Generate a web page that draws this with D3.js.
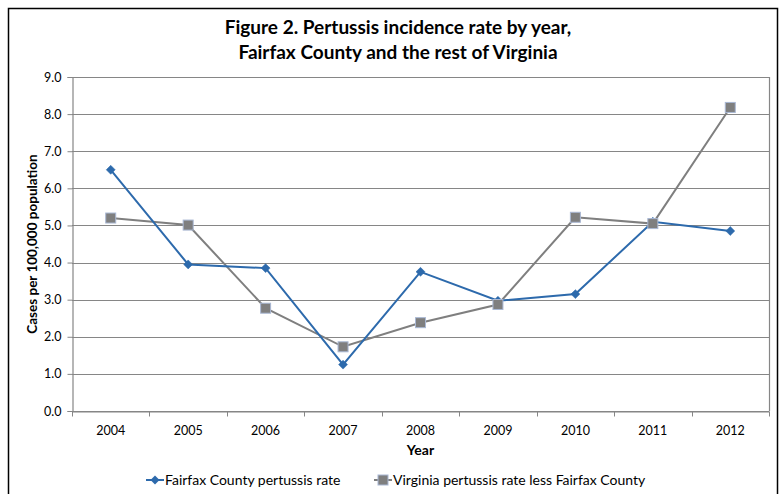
<!DOCTYPE html>
<html><head><meta charset="utf-8">
<script src="https://cdn.jsdelivr.net/npm/d3@7"></script>
<style>
html,body{margin:0;padding:0;background:#fff;}
svg{display:block;font-family:Lato,"Open Sans",sans-serif;}
</style></head>
<body>
<script>
const years = ["2004","2005","2006","2007","2008","2009","2010","2011","2012"];
const fairfax = [6.5, 3.95, 3.85, 1.25, 3.75, 2.97, 3.15, 5.1, 4.85];
const virginia = [5.2, 5.01, 2.77, 1.73, 2.38, 2.87, 5.22, 5.05, 8.18];
const yTicks = [0,1,2,3,4,5,6,7,8,9];
const titleLines = ["Figure 2. Pertussis incidence rate by year,", "Fairfax County and the rest of Virginia"];
const seriesNames = ["Fairfax County pertussis rate", "Virginia pertussis rate less Fairfax County"];

(function(){
const W = 782, H = 494;
const svg = d3.select("body").append("svg").attr("width", W).attr("height", H);

svg.append("rect").attr("x", 8.5).attr("y", 8.5).attr("width", 769).attr("height", 500)
  .attr("fill", "#fff").attr("stroke", "#000").attr("stroke-width", 1.5);

const pLeft = 72, pRight = 769, pTop = 77, pBottom = 411;
const x = d3.scaleBand().domain(years).range([pLeft, pRight]);
const y = d3.scaleLinear().domain([0, 9]).range([pBottom, pTop]);

svg.append("g").selectAll("text").data(titleLines).join("text")
  .attr("x", 398).attr("y", (d,i) => 34 + i*25)
  .attr("text-anchor", "middle").attr("font-weight", "bold").attr("font-size", 19)
  .attr("fill", "#000").text(d => d);

svg.append("g").selectAll("line").data(yTicks).join("line")
  .attr("x1", pLeft).attr("x2", pRight).attr("y1", d => Math.round(y(d)) + 0.5).attr("y2", d => Math.round(y(d)) + 0.5)
  .attr("stroke", "#868686").attr("stroke-width", 1.2);

svg.append("line").attr("x1", pRight + 0.5).attr("x2", pRight + 0.5).attr("y1", pTop).attr("y2", pBottom)
  .attr("stroke", "#868686").attr("stroke-width", 1.2);

const yAxis = d3.axisLeft(y).tickValues(yTicks).tickFormat(d3.format(".1f")).tickSize(5).tickPadding(6);
const gy = svg.append("g").attr("transform", `translate(${pLeft + 0.5},0)`).call(yAxis);
gy.select(".domain").attr("stroke", "#868686").attr("stroke-width", 1.2);
gy.selectAll(".tick line").attr("stroke", "#868686");
gy.selectAll(".tick text").attr("font-size", 12.5).attr("fill", "#000").attr("font-family", "Lato,sans-serif");

const xAxis = d3.axisBottom(x).tickSize(0).tickPadding(15);
const gx = svg.append("g").attr("transform", `translate(0,${pBottom + 0.5})`).call(xAxis);
gx.select(".domain").attr("stroke", "#868686").attr("stroke-width", 1.2);
gx.selectAll(".tick text").attr("font-size", 12.5).attr("fill", "#000").attr("font-family", "Lato,sans-serif");
const bounds = years.map(d => x(d)).concat([x(years[years.length-1]) + x.bandwidth()]);
gx.selectAll(".bt").data(bounds).join("line").attr("class", "bt")
  .attr("x1", d => Math.round(d) + 0.5).attr("x2", d => Math.round(d) + 0.5).attr("y1", 0).attr("y2", 5)
  .attr("stroke", "#868686");

svg.append("text").attr("x", x("2008") + x.bandwidth()/2).attr("y", 455)
  .attr("text-anchor", "middle").attr("font-weight", "bold").attr("font-size", 14).text("Year");
svg.append("text").attr("transform", `translate(37,${(pTop+pBottom)/2}) rotate(-90)`)
  .attr("text-anchor", "middle").attr("font-weight", "bold").attr("font-size", 13.5)
  .text("Cases per 100,000 population");

const cx = d => x(d) + x.bandwidth()/2;
const line = d3.line().x((d,i) => cx(years[i])).y(d => y(d));
const blue = "#2d6aac", gray = "#7f7f7f";

svg.append("path").datum(virginia).attr("d", line).attr("fill", "none").attr("stroke", gray).attr("stroke-width", 2);
svg.append("path").datum(fairfax).attr("d", line).attr("fill", "none").attr("stroke", blue).attr("stroke-width", 2);

const diamond = d3.symbol().type(d3.symbolSquare).size(40);
svg.append("g").selectAll("path").data(fairfax).join("path")
  .attr("transform", (d,i) => `translate(${cx(years[i])},${y(d)}) rotate(45)`)
  .attr("d", diamond).attr("fill", blue).attr("stroke", blue).attr("stroke-width", 0.5);

svg.append("g").selectAll("rect").data(virginia).join("rect")
  .attr("x", (d,i) => cx(years[i]) - 5).attr("y", d => y(d) - 5)
  .attr("width", 10).attr("height", 10)
  .attr("fill", gray).attr("stroke", "#a9b8d4").attr("stroke-width", 1);

const lg = svg.append("g");
const legendItems = [{name: seriesNames[0], color: blue, x: 146, type: "d"}, {name: seriesNames[1], color: gray, x: 374, type: "s"}];
legendItems.forEach(it => {
  const g = lg.append("g").attr("transform", `translate(${it.x},480)`);
  g.append("line").attr("x1", 0).attr("x2", 18).attr("y1", 0).attr("y2", 0).attr("stroke", it.color).attr("stroke-width", 2);
  if (it.type === "d") {
    g.append("path").attr("transform", "translate(9,0) rotate(45)").attr("d", diamond).attr("fill", it.color);
  } else {
    g.append("rect").attr("x", 4).attr("y", -5).attr("width", 10).attr("height", 10).attr("fill", it.color).attr("stroke", "#a9b8d4");
  }
  g.append("text").attr("x", 19).attr("y", 5).attr("font-size", 14).attr("fill", "#000").text(it.name);
});
})();
</script>
</body></html>
